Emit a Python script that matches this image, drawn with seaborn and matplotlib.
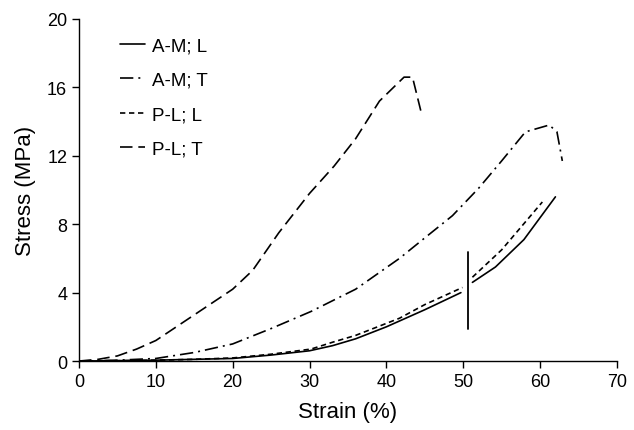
import numpy as np
import pandas as pd
import matplotlib
matplotlib.use("Agg")
import matplotlib.pyplot as plt
import seaborn as sns

# ---- data ----
am_l_x = [0, 5, 10, 15, 20, 25, 30, 33, 36, 40, 45, 49.7, None, 51.2, 54.2, 57.9, 62.0]
am_l_y = [0, 0.02, 0.05, 0.1, 0.15, 0.35, 0.6, 0.9, 1.3, 2.0, 3.0, 4.0, None, 4.6, 5.5, 7.1, 9.6]

am_t_x = [0, 5, 10, 15, 20, 25, 30.2, 36, 41.7, 45, 48.6, 52, 55, 58.1, 61.2, 62.2, 62.9]
am_t_y = [0, 0.05, 0.15, 0.5, 1.0, 1.9, 2.9, 4.2, 6.0, 7.2, 8.5, 10.1, 11.7, 13.4, 13.8, 13.4, 11.7]

pl_l_x = [0, 5, 10, 15, 20, 25, 30.2, 33, 36, 41.7, 45, 49.9, None, 51.2, 55, 60.3]
pl_l_y = [0, 0.02, 0.05, 0.1, 0.18, 0.4, 0.7, 1.1, 1.5, 2.5, 3.3, 4.3, None, 4.9, 6.5, 9.3]

pl_t_x = [0, 2.5, 5, 7.5, 10, 15, 20, 22.6, 26, 30, 33.2, 36, 39.1, 42.3, 43.4, 44.5]
pl_t_y = [0, 0.1, 0.3, 0.7, 1.2, 2.7, 4.2, 5.3, 7.5, 9.8, 11.4, 13.0, 15.2, 16.6, 16.6, 14.6]

labels = ["A-M; L", "A-M; T", "P-L; L", "P-L; T"]
xticks = [0, 10, 20, 30, 40, 50, 60, 70]
yticks = [0, 4, 8, 12, 16, 20]
marker_x = [50.6, 50.6]
marker_y = [1.9, 6.4]

def to_df(xs, ys, name):
    rows = []
    seg = 0
    for x, y in zip(xs, ys):
        if x is None:
            seg += 1
            continue
        rows.append((x, y, name, seg))
    return pd.DataFrame(rows, columns=["strain", "stress", "series", "seg"])

df = pd.concat([
    to_df(am_l_x, am_l_y, labels[0]),
    to_df(am_t_x, am_t_y, labels[1]),
    to_df(pl_l_x, pl_l_y, labels[2]),
    to_df(pl_t_x, pl_t_y, labels[3]),
], ignore_index=True)

sns.set_style("ticks")
plt.rcParams["font.family"] = ["Liberation Sans", "DejaVu Sans"]
plt.rcParams["text.color"] = "black"
plt.rcParams["axes.labelcolor"] = "black"

fig = plt.figure(figsize=(6.34, 4.31), dpi=100)
ax = fig.add_axes([0.1246, 0.160, 0.8484, 0.7936])

dashes = {
    labels[0]: "",
    labels[1]: (8, 3, 1.2, 3),
    labels[2]: (3.2, 2.2),
    labels[3]: (7.5, 3.5),
}
sns.lineplot(data=df, x="strain", y="stress", hue="series", style="series",
             units="seg", estimator=None, dashes=dashes,
             palette=["black"] * 4, linewidth=1.2, ax=ax, sort=False)

sns.lineplot(x=marker_x, y=marker_y, color="black", linewidth=1.3, ax=ax,
             sort=False, estimator=None)

ax.set_xlim(0, 70)
ax.set_ylim(0, 20)
ax.set_xticks(xticks)
ax.set_yticks(yticks)
ax.tick_params(axis="both", labelsize=13, length=5, width=1, color="black",
               labelcolor="black", direction="out")
ax.set_xlabel("Strain (%)", fontsize=16, labelpad=8)
ax.set_ylabel("Stress (MPa)", fontsize=16, labelpad=8)
for s in ["top", "right"]:
    ax.spines[s].set_visible(False)
for s in ["left", "bottom"]:
    ax.spines[s].set_color("black")
    ax.spines[s].set_linewidth(1)

handles, labs = ax.get_legend_handles_labels()
leg = ax.legend(handles[:4], labs[:4], loc="upper left", frameon=False,
                fontsize=13.5, handlelength=1.35, labelspacing=0.93,
                handletextpad=0.35, borderaxespad=0,
                bbox_to_anchor=(0.062, 0.969))

fig.savefig("out.png", dpi=100)
